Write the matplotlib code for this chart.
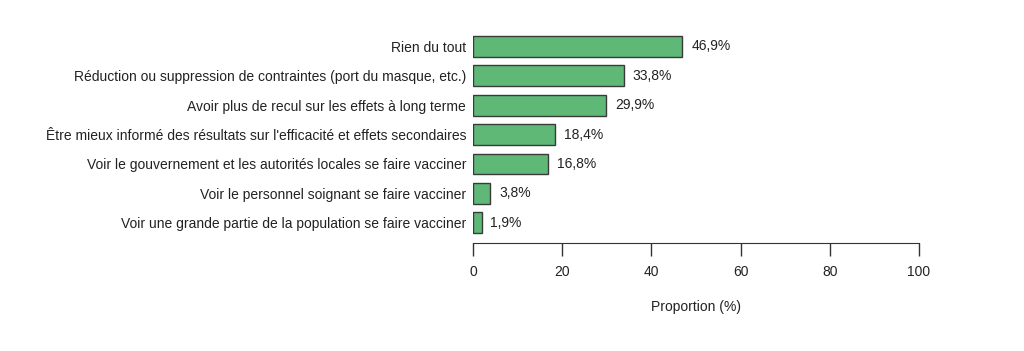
import matplotlib.pyplot as plt
import numpy as np

plt.rcParams['font.family'] = ['Liberation Sans', 'DejaVu Sans']

categories = [
    "Rien du tout",
    "Réduction ou suppression de contraintes (port du masque, etc.)",
    "Avoir plus de recul sur les effets à long terme",
    "Être mieux informé des résultats sur l'efficacité et effets secondaires",
    "Voir le gouvernement et les autorités locales se faire vacciner",
    "Voir le personnel soignant se faire vacciner",
    "Voir une grande partie de la population se faire vacciner",
]
values = [46.9, 33.8, 29.9, 18.4, 16.8, 3.8, 1.9]
labels = ["46,9%", "33,8%", "29,9%", "18,4%", "16,8%", "3,8%", "1,9%"]
xticks = [0, 20, 40, 60, 80, 100]

fs = 10

fig = plt.figure(figsize=(10.24, 3.51), dpi=100)
ax = fig.add_axes([0.462, 0.3077, 0.4355, 0.603])

pos = np.arange(len(values))[::-1]
ax.barh(pos, values, height=0.71, color='#5fb876', edgecolor='#3a3a3a', linewidth=1.0)

for y, v, lab in zip(pos, values, labels):
    ax.text(v + 2.0, y, lab, va='center', ha='left', fontsize=fs, color='#222222')

ax.set_yticks(pos)
ax.set_yticklabels(categories, fontsize=fs, color='#222222')
ax.tick_params(axis='y', length=0, pad=5)

ax.set_xlim(0, 100)
ax.set_ylim(-0.68, 6.5)
ax.set_xticks(xticks)
ax.set_xticklabels([str(t) for t in xticks], fontsize=fs, color='#222222')
ax.tick_params(axis='x', length=9, width=1, color='#333333', pad=7)

for s in ['top', 'right', 'left']:
    ax.spines[s].set_visible(False)
ax.spines['bottom'].set_color('#333333')
ax.spines['bottom'].set_bounds(0, 100)

ax.set_xlabel("Proportion (%)", fontsize=fs, color='#222222', labelpad=15)

fig.savefig("out.png", dpi=100, facecolor='white')
